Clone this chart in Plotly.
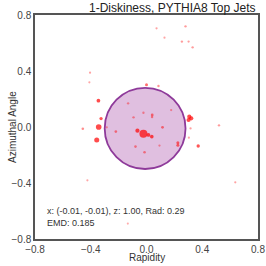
import numpy as np
import plotly.graph_objects as go

# particle data (rapidity, azimuth, relative energy)
rapidity = [-0.022, -0.065, 0.014, 0.038, -0.343, -0.357, -0.345, -0.326, -0.457,
            0.307, 0.321, 0.302, 0.371, 0.225, 0.225, 0.115, 0.041, 0.040,
            0.000, 0.086, -0.220, -0.079, -0.014, -0.093, -0.132, -0.022, 0.177,
            0.093, 0.316, 0.304, 0.520, 0.637, -0.424, -0.405, -0.410,
            0.072, 0.280, 0.129, 0.254, 0.302, 0.331, -0.134, -0.285]
azimuth = [-0.048, -0.026, -0.057, -0.069, 0.000, -0.093, 0.188, 0.060, -0.012,
           0.074, 0.062, 0.050, -0.136, -0.112, -0.131, -0.002, 0.086, 0.072,
           0.302, 0.293, -0.033, -0.140, -0.181, 0.069, 0.169, 0.102, 0.121,
           -0.133, -0.010, -0.076, 0.012, -0.395, -0.381, 0.388, 0.319,
           0.705, 0.719, 0.638, 0.610, 0.610, 0.569, -0.690, -0.002]
energy = [0.080, 0.012, 0.008, 0.007, 0.030, 0.022, 0.008, 0.005, 0.0012,
          0.012, 0.012, 0.012, 0.005, 0.003, 0.003, 0.002, 0.002, 0.001,
          0.003, 0.0008, 0.0015, 0.0012, 0.0012, 0.0008, 0.0006, 0.0006, 0.0005,
          0.0005, 0.0005, 0.0003, 0.0006, 0.0004, 0.0003, 0.0004, 0.0003,
          0.0004, 0.0006, 0.0003, 0.0006, 0.0005, 0.0006, 0.0002, 0.0004]

# fitted disk
center = (-0.01, -0.01)
radius = 0.29
z_val = 1.00
emd = 0.185

title = "1-Diskiness, PYTHIA8 Top Jets"
x_label = "Rapidity"
y_label = "Azimuthal Angle"
tick_vals = [-0.8, -0.4, 0.0, 0.4, 0.8]
tick_text = ["\u22120.8", "\u22120.4", "0.0", "0.4", "0.8"]

e = np.array(energy)
sizes = 1.8 + 22 * np.sqrt(e)
alphas = np.clip(0.35 + 0.65 * np.sqrt(e / 0.006), 0, 1)
colors = [f"rgba(255,0,0,{a:.2f})" for a in alphas]

fig = go.Figure()
fig.add_trace(go.Scatter(
    x=rapidity, y=azimuth, mode="markers",
    marker=dict(size=sizes, color=colors, line=dict(width=0)),
    hoverinfo="skip", showlegend=False,
))

fig.add_shape(type="circle", xref="x", yref="y",
              x0=center[0] - radius, x1=center[0] + radius,
              y0=center[1] - radius, y1=center[1] + radius,
              fillcolor="rgba(160,60,160,0.33)", line=dict(color="#8e3a9a", width=1.8),
              layer="below")

font_family = "Liberation Sans, Arial, sans-serif"
fig.add_annotation(xref="paper", yref="paper", x=0.045, y=0.125, xanchor="left", yanchor="middle",
                   text=f"x: ({center[0]:.2f}, {center[1]:.2f}), z: {z_val:.2f}, Rad: {radius:.2f}",
                   showarrow=False, font=dict(size=9, color="#333333", family=font_family))
fig.add_annotation(xref="paper", yref="paper", x=0.045, y=0.072, xanchor="left", yanchor="middle",
                   text=f"EMD: {emd:.3f}",
                   showarrow=False, font=dict(size=9, color="#333333", family=font_family))
# title
fig.add_annotation(xref="paper", yref="paper", x=1.0, y=1.0, xanchor="right", yanchor="bottom",
                   yshift=-2, text=title, showarrow=False,
                   font=dict(size=12, color="#222222", family=font_family))
# axis labels
fig.add_annotation(xref="paper", yref="paper", x=0.5, y=0, xanchor="center", yanchor="middle",
                   yshift=-18, text=x_label, showarrow=False,
                   font=dict(size=10, color="#333333", family=font_family))
fig.add_annotation(xref="paper", yref="paper", x=0, y=0.5, xanchor="center", yanchor="middle",
                   xshift=-23, text=y_label, textangle=-90, showarrow=False,
                   font=dict(size=10, color="#333333", family=font_family))

axis_common = dict(range=[-0.8, 0.8], tickvals=tick_vals, ticktext=tick_text,
                   showgrid=False, zeroline=False, showline=True, linecolor="#555555",
                   linewidth=1.5, mirror=True, ticks="", automargin=False,
                   tickfont=dict(size=10, color="#444444", family=font_family))

fig.update_layout(
    width=266, height=266,
    margin=dict(l=35, r=8, t=15, b=27, autoexpand=False),
    paper_bgcolor="white", plot_bgcolor="white",
    xaxis=dict(**axis_common),
    yaxis=dict(**axis_common),
)

fig.write_html("out.html", config={"displayModeBar": False},
               post_script="document.body.style.margin='0';document.body.style.overflow='hidden';")
